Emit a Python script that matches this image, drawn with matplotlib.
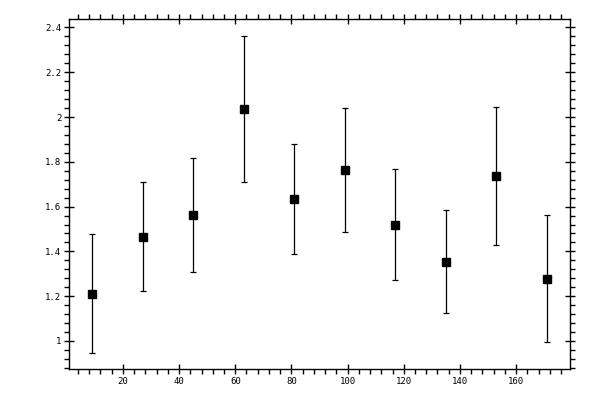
import matplotlib
matplotlib.use('Agg')
import matplotlib.pyplot as plt
from matplotlib.ticker import MultipleLocator

# data
x_vals = [9, 27, 45, 63, 81, 99, 117, 135, 153, 171]
y_vals = [1.212, 1.465, 1.563, 2.036, 1.634, 1.763, 1.519, 1.354, 1.736, 1.279]
y_err = [0.267, 0.243, 0.256, 0.327, 0.245, 0.278, 0.247, 0.231, 0.307, 0.283]

plt.rcParams['font.family'] = 'DejaVu Sans Mono'

fig = plt.figure(figsize=(6, 4), dpi=100)
ax = fig.add_axes([0.115, 0.077, 0.835, 0.875])

ax.errorbar(x_vals, y_vals, yerr=y_err, fmt='s', color='black',
            markersize=5.2, elinewidth=0.9, capsize=2.5, capthick=0.9)

ax.set_xlim(0.8, 179.2)
ax.set_ylim(0.874, 2.437)

ax.xaxis.set_major_locator(MultipleLocator(20))
ax.xaxis.set_minor_locator(MultipleLocator(4))
ax.yaxis.set_major_locator(MultipleLocator(0.2))
ax.yaxis.set_minor_locator(MultipleLocator(0.04))
ax.yaxis.set_major_formatter(plt.FuncFormatter(lambda v, p: '%g' % round(v, 2)))

ax.tick_params(which='major', direction='inout', length=7, width=1,
               top=True, right=True, labelsize=6.5, pad=2)
ax.tick_params(which='minor', direction='out', length=3.5, width=1,
               top=True, right=True)

for sp in ax.spines.values():
    sp.set_linewidth(1.0)

fig.savefig('out.png', dpi=100)
